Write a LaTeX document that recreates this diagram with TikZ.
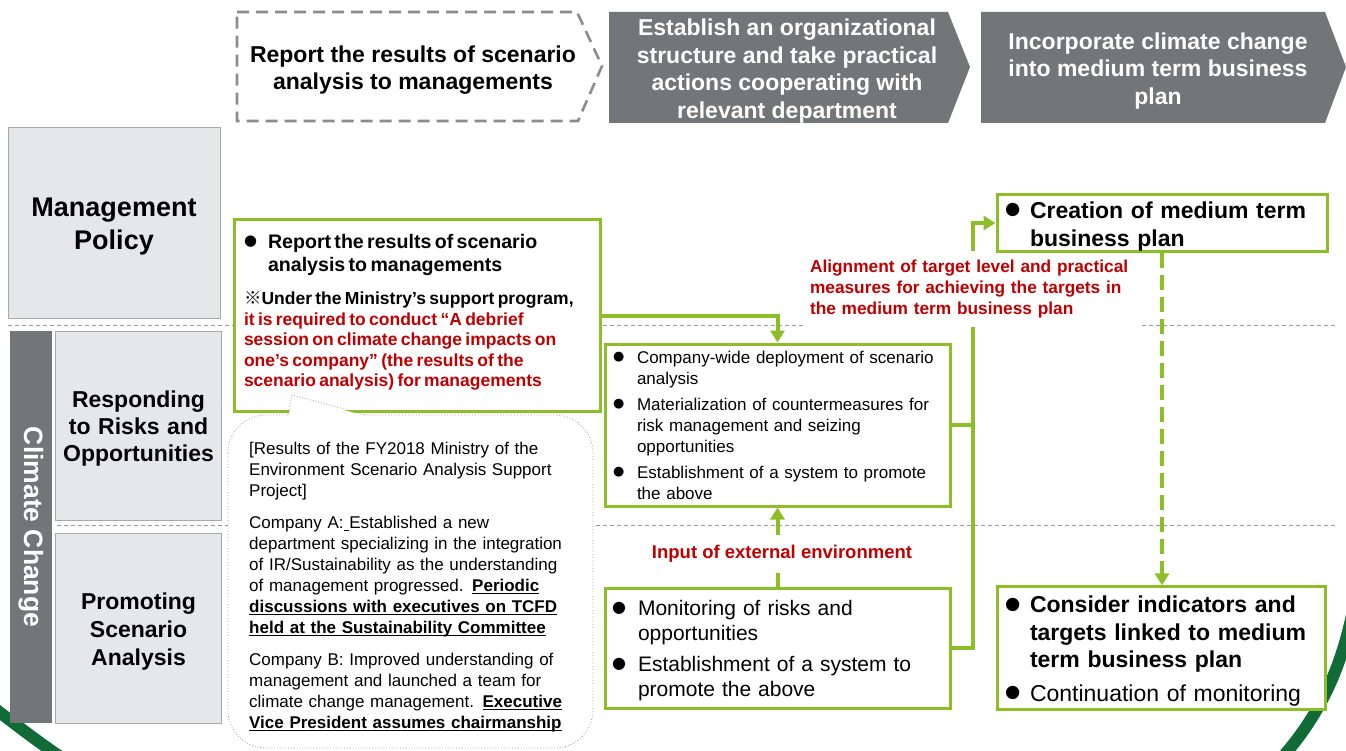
\documentclass[tikz,border=0pt]{standalone}
\usepackage{fontspec}
\setmainfont{Liberation Sans}
\newfontfamily\cjk{Noto Sans CJK JP}
\newfontfamily\dotfont{DejaVu Sans}
\usetikzlibrary{arrows.meta,positioning,calc,backgrounds}
\definecolor{leaf}{HTML}{8CBE28}
\definecolor{alertred}{HTML}{C00000}
\definecolor{slate}{HTML}{737679}
\definecolor{rowgray}{HTML}{E6E7E8}
\definecolor{rowedge}{HTML}{A7A9AC}
\definecolor{sepgray}{HTML}{9A9A9A}
\definecolor{chevgray}{HTML}{8C8C8C}
\definecolor{bubgray}{HTML}{9A9A9A}
\definecolor{forest}{HTML}{106B36}
\newcommand{\bulitem}[1]{\makebox[#1][l]{\raisebox{0.15em}{\scalebox{0.76}{\dotfont ●}}}}
\newcommand{\bulpad}[1]{\hspace*{#1}}
\newcommand{\droptop}{\rule{0pt}{1em}}
\newsavebox{\ulinebox}
\newcommand{\ulin}[1]{\leavevmode\sbox{\ulinebox}{#1}\rlap{\rule[-2.8pt]{\wd\ulinebox}{1.2pt}}\usebox{\ulinebox}}
\tikzset{
  rowbox/.style={rectangle, draw=rowedge, fill=rowgray, line width=0.8pt,
    align=center, text=black},
  stepbox/.style={rectangle, draw=leaf, line width=3pt, fill=white,
    align=left, inner xsep=8pt, inner ysep=3pt},
  flowarrow/.style={-{Triangle[length=12pt,width=14pt]}, line width=4pt, draw=leaf},
  flowline/.style={line width=4pt, draw=leaf},
  dasharrow/.style={-{Triangle[length=12pt,width=14pt]}, line width=4.5pt,
    draw=leaf, dash pattern=on 15pt off 7pt},
  sepline/.style={draw=sepgray, line width=1pt, dash pattern=on 4pt off 3pt},
  chevdash/.style={draw=chevgray, line width=2.6pt, dash pattern=on 12pt off 7pt},
  hdtext/.style={align=center, font=\fontsize{23}{27.5}\selectfont\bfseries},
  redlabel/.style={fill=white, text=alertred, align=left,
    font=\fontsize{17.3}{21}\selectfont\bfseries},
  bubbleline/.style={draw=bubgray, line width=0.8pt, dotted},
  arcline/.style={draw=forest, line width=12pt},
}
\begin{document}
\begin{tikzpicture}[x=1pt,y=-1pt]
  \useasboundingbox (0,0) rectangle (1346,751);

  % Header steps
  \draw[chevdash] (237,12) -- (577,12) -- (602,66) -- (578,121) -- (237,121) -- cycle;
  \fill[slate] (609,12) -- (948,12) -- (970,67) -- (948,123) -- (609,123) -- cycle;
  \fill[slate] (981,12) -- (1325,12) -- (1346,67) -- (1325,123) -- (981,123) -- cycle;
  \node[hdtext] (hdReport) at (413,70) {Report the results of scenario\\analysis to managements};
  \node[hdtext, text=white] (hdOrg) at (787,71) {Establish an organizational\\structure and take practical\\actions cooperating with\\relevant department};
  \node[hdtext, text=white] (hdPlan) at (1158,71) {Incorporate climate change\\into medium term business\\plan};

  % Row labels
  \node[rowbox, minimum width=212pt, minimum height=191pt, text width=200pt,
    font=\fontsize{27}{33}\selectfont\bfseries] (mgmt) at (114,222.5) {\droptop Management\\Policy};
  \node[rowbox, minimum width=163pt, minimum height=189pt, text width=160pt,
    font=\fontsize{23}{27}\selectfont\bfseries] (risk) at (138.5,425.5) {\droptop Responding\\to Risks and\\Opportunities};
  \node[rowbox, minimum width=163pt, minimum height=190pt, text width=160pt,
    font=\fontsize{23}{28}\selectfont\bfseries] (promo) at (138.5,628) {\droptop Promoting\\Scenario\\Analysis};
  \node[fill=slate, minimum width=392pt, minimum height=42pt, rotate=-90, text=white,
    font=\fontsize{26.5}{30}\selectfont\bfseries] (climate) at (31,527) {Climate Change};

  % Step boxes
  \node[stepbox, text width=346pt, inner xsep=10pt, minimum height=191pt] (boxA) at (417,315.5) {%
    {\fontsize{19.6}{23}\selectfont\bfseries\bulitem{24pt}Report the results of scenario\\\bulpad{24pt}analysis to managements\par}%
    \vspace{13pt}%
    {\fontsize{17.5}{20.5}\selectfont\bfseries{\cjk ※}Under the Ministry’s support program,\\
    \color{alertred}it is required to conduct “A debrief\\session on climate change impacts on\\one’s company” (the results of the\\scenario analysis) for managements\rule[-10pt]{0pt}{10pt}\par}};
  \node[stepbox, text width=329pt, minimum height=162pt,
    font=\fontsize{17}{21}\selectfont] (boxB) at (777.5,425) {%
    \bulitem{24pt}Company-wide deployment of scenario\\\bulpad{24pt}analysis\\[5pt]
    \bulitem{24pt}Materialization of countermeasures for\\\bulpad{24pt}risk management and seizing\\\bulpad{24pt}opportunities\\[5pt]
    \bulitem{24pt}Establishment of a system to promote\\\bulpad{24pt}the above};
  \node[stepbox, text width=331pt, inner xsep=7pt, minimum height=120pt,
    font=\fontsize{21}{25}\selectfont] (boxC) at (777.5,648) {%
    \droptop\bulitem{26pt}Monitoring of risks and\\\bulpad{26pt}opportunities\\[6pt]
    \bulitem{26pt}Establishment of a system to\\\bulpad{26pt}promote the above};
  \node[stepbox, text width=314pt, inner ysep=1pt, minimum height=56pt,
    font=\fontsize{23}{28}\selectfont\bfseries] (boxD) at (1162,223) {%
    \droptop\bulitem{25pt}Creation of medium term\\\bulpad{25pt}business plan};
  \node[stepbox, text width=312pt, minimum height=120pt,
    font=\fontsize{23}{27.5}\selectfont] (boxE) at (1161,648) {%
    \droptop{\bfseries\bulitem{25pt}Consider indicators and\\\bulpad{25pt}targets linked to medium\\\bulpad{25pt}term business plan}\\[6pt]
    \bulitem{25pt}Continuation of monitoring};

  % Case study bubble
  \draw[bubbleline, fill=white, rounded corners=38pt] (228,415) rectangle (593,748);
  \fill[white] (288.6,416.5) -- (292,395) -- (366.5,416.5) -- cycle;
  \draw[bubbleline] (288,415) -- (292,395) -- (367,415);
  \node[anchor=west, text width=340pt, inner xsep=5pt, align=left,
    font=\fontsize{17}{21}\selectfont] (caseTxt) at (244,587) {%
    [Results of the FY2018 Ministry of the\\Environment Scenario Analysis Support\\Project]\\[11pt]
    Company A:\ulin{\ }Established a new\\department specializing in the integration\\of IR/Sustainability as the understanding\\of management progressed. \ulin{\textbf{Periodic}}\\\ulin{\textbf{discussions with executives on TCFD}}\\\ulin{\textbf{held at the Sustainability Committee}}\\[11pt]
    Company B: Improved understanding of\\management and launched a team for\\climate change management. \ulin{\textbf{Executive}}\\\ulin{\textbf{Vice President assumes chairmanship}}};

  \coordinate (bus) at (973,0);

  \begin{scope}[on background layer]
    % slide decoration
    \draw[arcline] (-10,705) .. controls (10,720) and (35,740) .. (65,760);
    \draw[arcline] (1352,615) .. controls (1340,670) and (1320,715) .. (1280,760);
    % row separators
    \draw[sepline] (8,325) -- (1336,325);
    \draw[sepline] (57,525) -- (1336,525);
    % connectors
    \draw[flowarrow] (boxA.east) -| (boxB.north);
    \draw[flowarrow] (boxC.north) -- (boxB.south);
    \draw[flowarrow] (boxC.east) -| (bus |- boxD.west) -- (boxD.west);
    \draw[flowline] (boxB.east) -- (boxB.east -| bus);
    \draw[dasharrow] (boxD.south) -- (boxD.south |- boxE.north);
    % labels
    \node[redlabel, text width=323pt, inner xsep=7pt, inner ysep=9pt] (alignLbl) at (971.5,289)
      {Alignment of target level and practical\\measures for achieving the targets in\\the medium term business plan};
    \node[redlabel, inner xsep=4pt, inner ysep=10pt, font=\fontsize{18.5}{22}\selectfont\bfseries] (inputLbl) at (782,554)
      {Input of external environment};
  \end{scope}
\end{tikzpicture}
\end{document}
